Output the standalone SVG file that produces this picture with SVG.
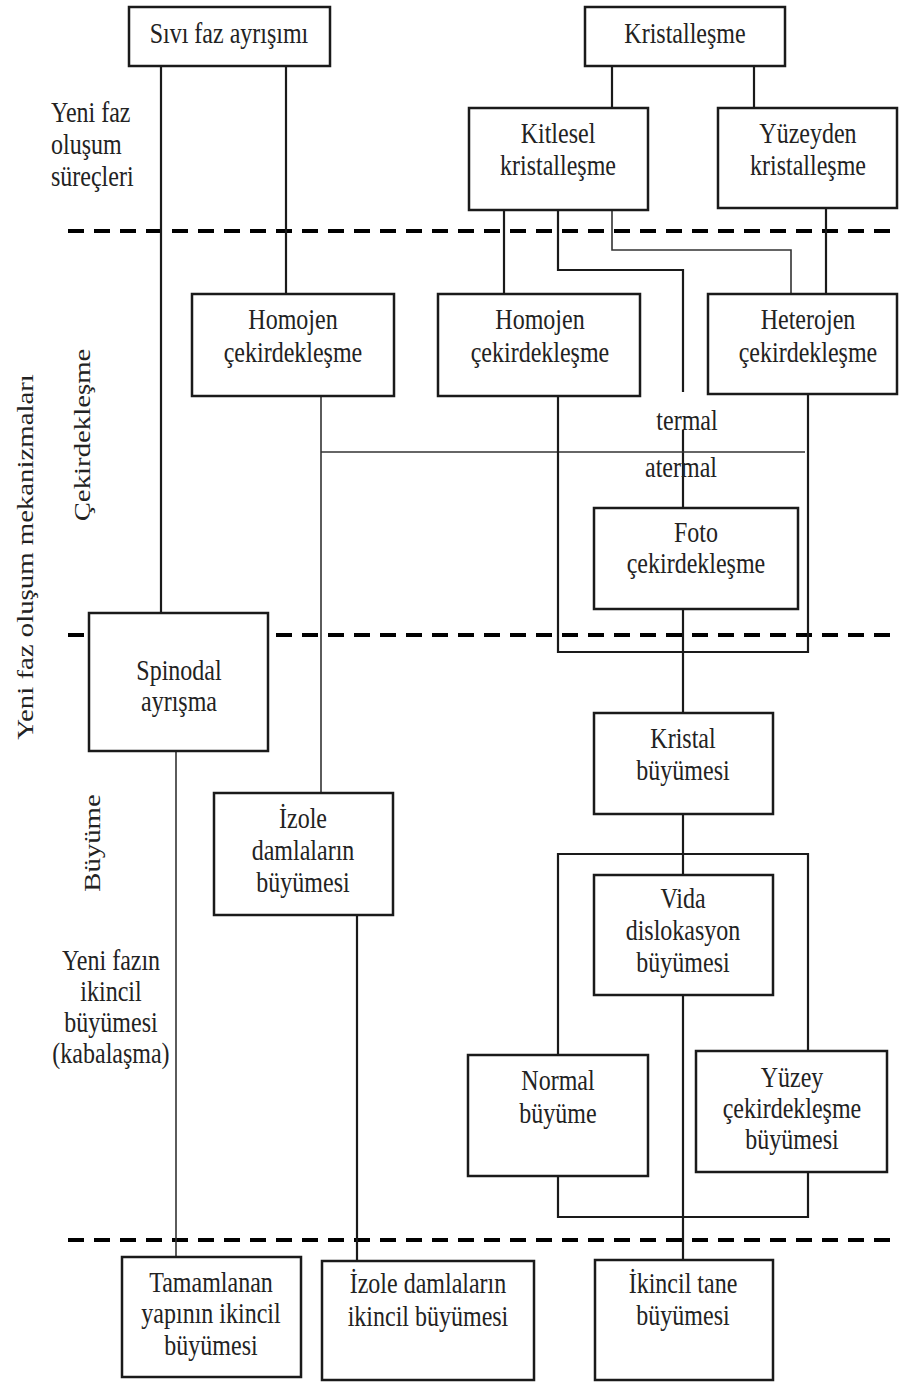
<svg xmlns="http://www.w3.org/2000/svg" width="900" height="1383" viewBox="0 0 900 1383">
<style>
.box{fill:#fff;stroke:#1a1a1a;stroke-width:2.5}
.ln{fill:none;stroke:#1a1a1a;stroke-width:2.2}
.thin{fill:none;stroke:#333;stroke-width:1.6}
.dash{fill:none;stroke:#000;stroke-width:4;stroke-dasharray:16 10}
text{font-family:"Liberation Serif","Times New Roman",serif;font-size:24px;fill:#222}
.c{text-anchor:middle}
</style>
<rect width="900" height="1383" fill="#fff"/>
<g id="separators">
<line class="dash" x1="68" y1="231" x2="900" y2="231"/>
<line class="dash" x1="68" y1="635" x2="900" y2="635"/>
<line class="dash" x1="68" y1="1240" x2="900" y2="1240"/>
</g>
<g id="connectors">
<line class="ln" x1="161" y1="66" x2="161" y2="613"/>
<line class="ln" x1="286" y1="66" x2="286" y2="294"/>
<line class="ln" x1="612" y1="66" x2="612" y2="108"/>
<line class="ln" x1="754" y1="66" x2="754" y2="108"/>
<line class="ln" x1="504" y1="210" x2="504" y2="294"/>
<path class="ln" d="M558 210V270H683V392"/>
<path class="thin" d="M612 210V250H791V294"/>
<line class="ln" x1="826" y1="208" x2="826" y2="294"/>
<line class="ln" x1="683" y1="430" x2="683" y2="508"/>
<line class="thin" x1="321" y1="396" x2="321" y2="793"/>
<line class="thin" x1="321" y1="452" x2="805" y2="452"/>
<path class="ln" d="M558 396V652H808V394"/>
<line class="ln" x1="683" y1="609" x2="683" y2="713"/>
<line class="ln" x1="683" y1="814" x2="683" y2="875"/>
<path class="ln" d="M558 1055V854H808V1052"/>
<line class="ln" x1="683" y1="995" x2="683" y2="1260"/>
<path class="ln" d="M558 1176V1217H808V1172"/>
<line class="thin" x1="176" y1="751" x2="176" y2="1257"/>
<line class="ln" x1="357" y1="915" x2="357" y2="1261"/>
</g>
<g id="boxes">
<g id="n-sivi"><rect class="box" x="129" y="7" width="201" height="59"/></g>
<g id="n-kristallesme"><rect class="box" x="585" y="7" width="200" height="59"/></g>
<g id="n-kitlesel"><rect class="box" x="469" y="108" width="179" height="102"/></g>
<g id="n-yuzeyden"><rect class="box" x="718" y="108" width="179" height="100"/></g>
<g id="n-homojen1"><rect class="box" x="192" y="294" width="202" height="102"/></g>
<g id="n-homojen2"><rect class="box" x="438" y="294" width="202" height="102"/></g>
<g id="n-heterojen"><rect class="box" x="708" y="294" width="189" height="100"/></g>
<g id="n-foto"><rect class="box" x="594" y="508" width="204" height="101"/></g>
<g id="n-spinodal"><rect class="box" x="89" y="613" width="179" height="138"/></g>
<g id="n-izole"><rect class="box" x="214" y="793" width="179" height="122"/></g>
<g id="n-kristal"><rect class="box" x="594" y="713" width="179" height="101"/></g>
<g id="n-vida"><rect class="box" x="594" y="875" width="179" height="120"/></g>
<g id="n-normal"><rect class="box" x="468" y="1055" width="180" height="121"/></g>
<g id="n-yuzey"><rect class="box" x="696" y="1051" width="191" height="121"/></g>
<g id="n-tamamlanan"><rect class="box" x="122" y="1257" width="179" height="120"/></g>
<g id="n-izole2"><rect class="box" x="322" y="1261" width="212" height="119"/></g>
<g id="n-ikincil"><rect class="box" x="595" y="1260" width="178" height="120"/></g>
</g>
<g id="labels" transform="scale(1,1.2)">
<text class="c" x="229" y="35.83">Sıvı faz ayrışımı</text>
<text class="c" x="685" y="35.83">Kristalleşme</text>
<text class="c" x="558" y="119.17">Kitlesel</text>
<text class="c" x="558" y="145.83">kristalleşme</text>
<text class="c" x="808" y="119.17">Yüzeyden</text>
<text class="c" x="808" y="145.83">kristalleşme</text>
<text class="c" x="293" y="274.17">Homojen</text>
<text class="c" x="293" y="301.67">çekirdekleşme</text>
<text class="c" x="540" y="274.17">Homojen</text>
<text class="c" x="540" y="301.67">çekirdekleşme</text>
<text class="c" x="808" y="274.17">Heterojen</text>
<text class="c" x="808" y="301.67">çekirdekleşme</text>
<text class="c" x="687" y="358.33">termal</text>
<text class="c" x="681" y="397.5">atermal</text>
<text class="c" x="696" y="451.67">Foto</text>
<text class="c" x="696" y="477.5">çekirdekleşme</text>
<text class="c" x="179" y="566.67">Spinodal</text>
<text class="c" x="179" y="592.5">ayrışma</text>
<text class="c" x="303" y="690">İzole</text>
<text class="c" x="303" y="716.67">damlaların</text>
<text class="c" x="303" y="743.33">büyümesi</text>
<text class="c" x="683" y="623.33">Kristal</text>
<text class="c" x="683" y="650">büyümesi</text>
<text class="c" x="683" y="756.67">Vida</text>
<text class="c" x="683" y="783.33">dislokasyon</text>
<text class="c" x="683" y="810">büyümesi</text>
<text class="c" x="558" y="908.33">Normal</text>
<text class="c" x="558" y="935.83">büyüme</text>
<text class="c" x="792" y="905.83">Yüzey</text>
<text class="c" x="792" y="931.67">çekirdekleşme</text>
<text class="c" x="792" y="957.5">büyümesi</text>
<text class="c" x="211" y="1076.67">Tamamlanan</text>
<text class="c" x="211" y="1102.5">yapının ikincil</text>
<text class="c" x="211" y="1129.17">büyümesi</text>
<text class="c" x="428" y="1077.5">İzole damlaların</text>
<text class="c" x="428" y="1105">ikincil büyümesi</text>
<text class="c" x="683" y="1077.5">İkincil tane</text>
<text class="c" x="683" y="1104.17">büyümesi</text>
<text x="51" y="101.67">Yeni faz</text>
<text x="51" y="128.33">oluşum</text>
<text x="51" y="155">süreçleri</text>
<text class="c" x="111" y="808.33">Yeni fazın</text>
<text class="c" x="111" y="834.17">ikincil</text>
<text class="c" x="111" y="860">büyümesi</text>
<text class="c" x="111" y="885.83">(kabalaşma)</text>
<text class="c" transform="translate(33,464.17) rotate(-90)">Yeni faz oluşum mekanizmaları</text>
<text class="c" transform="translate(90,362.5) rotate(-90)">Çekirdekleşme</text>
<text class="c" transform="translate(100,702.5) rotate(-90)">Büyüme</text>
</g>
</svg>
